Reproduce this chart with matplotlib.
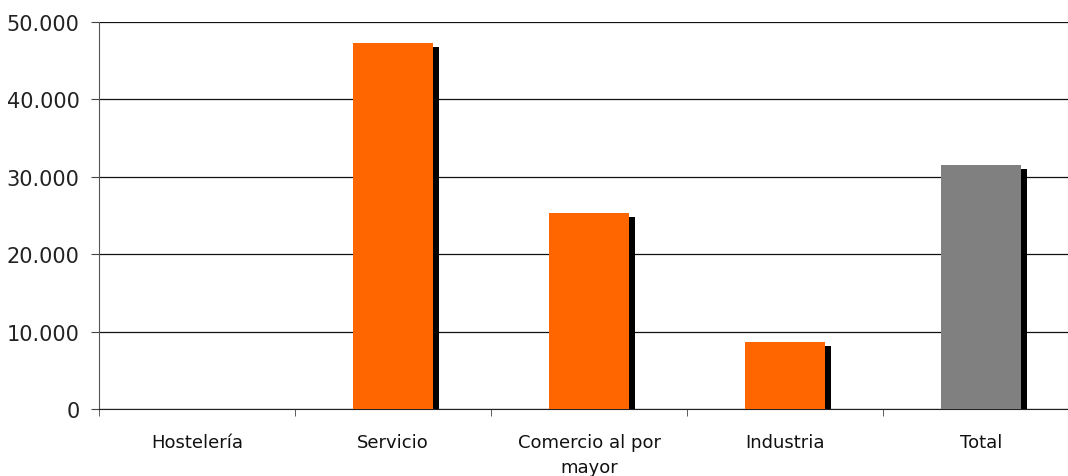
import matplotlib
matplotlib.use("Agg")
import matplotlib.pyplot as plt
import matplotlib.transforms as mtransforms
from matplotlib.ticker import FuncFormatter, FixedLocator

# data
categories = ["Hostelería", "Servicio", "Comercio al por\nmayor", "Industria", "Total"]
values = [0, 47300, 25300, 8650, 31550]
colors = ["#FF6600", "#FF6600", "#FF6600", "#FF6600", "#808080"]
yticks = [0, 10000, 20000, 30000, 40000, 50000]

fig = plt.figure(figsize=(10.68, 4.77), dpi=100)
# the plot area runs a bit past the right edge of the image, like the original
ax = fig.add_axes([99 / 1068, 1 - 410 / 477, 980 / 1068, 387 / 477])

x = list(range(len(categories)))

# shadow bars, shifted a few pixels right and down
shadow = ax.transData + mtransforms.ScaledTranslation(6 / 100, -4 / 100, fig.dpi_scale_trans)
ax.bar(x, values, width=0.41, color="black", transform=shadow, zorder=2)
ax.bar(x, values, width=0.41, color=colors, zorder=3)

ax.set_xlim(-0.5, len(categories) - 0.5)
ax.set_ylim(0, 50000)
ax.set_yticks(yticks)
ax.yaxis.set_major_formatter(FuncFormatter(lambda v, p: f"{int(v):,}".replace(",", ".")))
ax.grid(axis="y", color="#111111", lw=0.9, zorder=0)
ax.set_axisbelow(True)

ax.set_xticks(x)
ax.set_xticklabels(categories, fontsize=13, linespacing=1.5, color="#111111")
ax.tick_params(axis="x", length=0, pad=17)
ax.xaxis.set_minor_locator(FixedLocator([i - 0.5 for i in range(len(categories) + 1)]))
ax.tick_params(axis="x", which="minor", length=5, color="#444444", direction="out")
ax.tick_params(axis="y", length=6, color="#444444", labelsize=15, labelcolor="#222222", pad=8)

for s in ["top", "right"]:
    ax.spines[s].set_visible(False)
ax.spines["left"].set_color("#555555")
ax.spines["bottom"].set_color("#222222")

fig.savefig("out.png", dpi=100)
